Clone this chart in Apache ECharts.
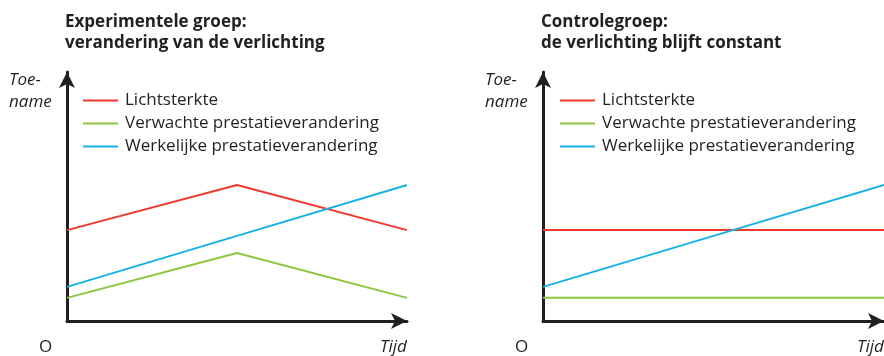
<!DOCTYPE html>
<html>
<head>
<meta charset="utf-8">
<script src="https://cdn.jsdelivr.net/npm/echarts@6/dist/echarts.min.js"></script>
<style>
  html, body { margin: 0; padding: 0; background: #fff; }
  #chart { width: 884px; height: 356px; }
</style>
</head>
<body>
<div id="chart"></div>
<script>
// tijd-punten (begin, midden, eind)
const tijd = [0, 5, 10]
const seriesNames = ['Lichtsterkte', 'Verwachte prestatieverandering', 'Werkelijke prestatieverandering']
const colors = ['#ee3a2d', '#8cc63e', '#17b1e3']

// experimentele groep
const expLicht = [36.5, 54.6, 36.5]
const expVerwacht = [9.3, 27.3, 9.3]
const expWerkelijk = [13.7, 34.2, 54.6]

// controlegroep
const conLicht = [36.5, 36.5, 36.5]
const conVerwacht = [9.3, 9.3, 9.3]
const conWerkelijk = [13.7, 34.2, 54.6]

const titles = ['Experimentele groep:\nverandering van de verlichting', 'Controlegroep:\nde verlichting blijft constant']

const chart = echarts.init(document.getElementById('chart'))

const font = '"Open Sans", "Noto Sans", sans-serif'
const ink = '#231f20'

function pts(vals) {
  return tijd.map((t, i) => [t, vals[i]])
}

function axisPair(idx) {
  return {
    x: {
      type: 'value', gridIndex: idx, min: 0, max: 10,
      axisLine: { show: true, symbol: ['none', 'arrow'], symbolSize: [12, 16], lineStyle: { color: ink, width: 3 } },
      axisTick: { show: false }, axisLabel: { show: false }, splitLine: { show: false }
    },
    y: {
      type: 'value', gridIndex: idx, min: 0, max: 100,
      axisLine: { show: true, symbol: ['none', 'arrow'], symbolSize: [12, 16], lineStyle: { color: ink, width: 3 } },
      axisTick: { show: false }, axisLabel: { show: false }, splitLine: { show: false }
    }
  }
}

const a0 = axisPair(0)
const a1 = axisPair(1)

function line(name, data, idx, color) {
  return {
    name: name, type: 'line', xAxisIndex: idx, yAxisIndex: idx,
    data: pts(data), symbol: 'none', silent: true,
    lineStyle: { color: color, width: 2 }, itemStyle: { color: color }
  }
}

function legendAt(left) {
  return {
    orient: 'vertical', left: left, top: 92, padding: 0, icon: 'rect',
    itemWidth: 35, itemHeight: 2, itemGap: 6,
    selectedMode: false,
    textStyle: { fontFamily: font, fontSize: 17, color: ink, padding: [0, 0, 0, 2] },
    data: seriesNames
  }
}

const plain = { fontFamily: font, fontWeight: 'normal', fontSize: 17, color: ink }
const italic = Object.assign({}, plain, { fontStyle: 'italic' })

function labelTitles(left, oLeft, tijdLeft) {
  return [
    { text: 'Toe-\nname', left: left, top: 69, padding: 0, textStyle: Object.assign({ lineHeight: 22 }, italic) },
    { text: 'O', left: oLeft, top: 339, padding: 0, textStyle: plain },
    { text: 'Tijd', left: tijdLeft, top: 339, padding: 0, textStyle: italic }
  ]
}

const bold = { fontFamily: font, fontWeight: 'bold', fontSize: 17, lineHeight: 21, color: ink }

chart.setOption({
  animation: false,
  title: [
    { text: titles[0], left: 65, top: 12, padding: 0, textStyle: bold },
    { text: titles[1], left: 541, top: 12, padding: 0, textStyle: bold },
    ...labelTitles(9, 39, 380),
    ...labelTitles(485, 515, 857)
  ],
  legend: [legendAt(83), legendAt(560)],
  grid: [
    { left: 67, top: 72, width: 340, height: 249 },
    { left: 543, top: 72, width: 341, height: 249 }
  ],
  xAxis: [a0.x, a1.x],
  yAxis: [a0.y, a1.y],
  series: [
    line(seriesNames[0], expLicht, 0, colors[0]),
    line(seriesNames[1], expVerwacht, 0, colors[1]),
    line(seriesNames[2], expWerkelijk, 0, colors[2]),
    line(seriesNames[0], conLicht, 1, colors[0]),
    line(seriesNames[1], conVerwacht, 1, colors[1]),
    line(seriesNames[2], conWerkelijk, 1, colors[2])
  ]
})
</script>
</body>
</html>
